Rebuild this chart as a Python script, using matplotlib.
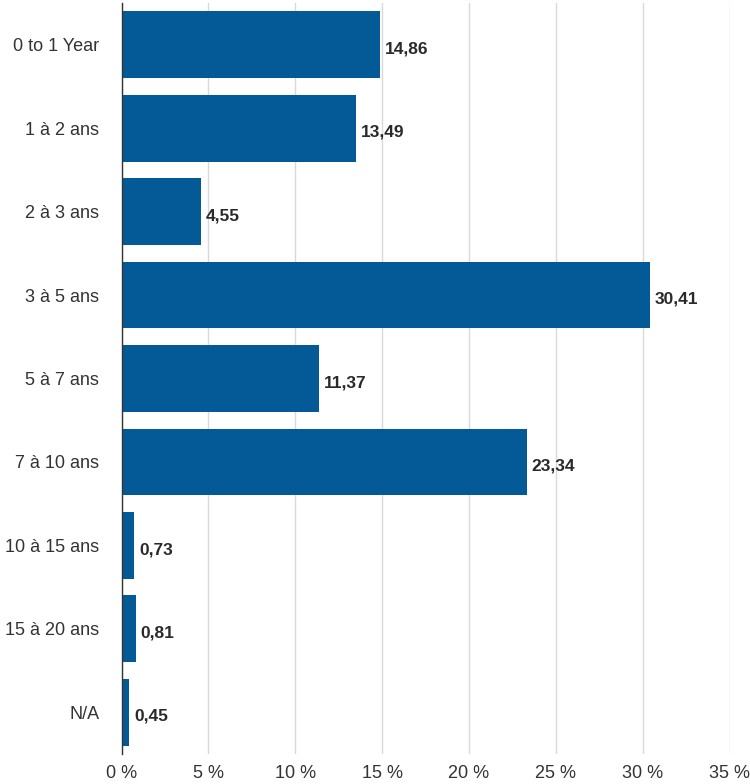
import matplotlib
matplotlib.use("Agg")
import matplotlib.pyplot as plt

categories = ["0 to 1 Year", "1 à 2 ans", "2 à 3 ans", "3 à 5 ans", "5 à 7 ans",
              "7 à 10 ans", "10 à 15 ans", "15 à 20 ans", "N/A"]
values = [14.86, 13.49, 4.55, 30.41, 11.37, 23.34, 0.73, 0.81, 0.45]
xticks = [0, 5, 10, 15, 20, 25, 30, 35]
xticklabels = ["0 %", "5 %", "10 %", "15 %", "20 %", "25 %", "30 %", "35 %"]

plt.rcParams['font.family'] = ['Liberation Sans', 'DejaVu Sans']

fig = plt.figure(figsize=(7.5, 7.84), dpi=100)
ax = fig.add_axes([121.5/750, 1-754/784, (729.5-121.5)/750, (754-3)/784])

y = list(range(len(categories)))
ax.barh(y, values, height=0.8, color="#035a96", zorder=2)
ax.set_ylim(len(categories)-0.5, -0.5)
ax.set_xlim(0, 35)
ax.set_yticks(y)
ax.set_yticklabels(categories, fontsize=13, color="#333333")
ax.set_xticks(xticks)
ax.set_xticklabels(xticklabels, fontsize=13, color="#333333")
ax.tick_params(axis='x', length=0, pad=8)
ax.tick_params(axis='y', length=0, pad=16)
ax.grid(axis='x', color="#d9d9d9", linewidth=1, zorder=0)
for s in ["top", "right", "bottom"]:
    ax.spines[s].set_visible(False)
ax.spines["left"].set_color("#333333")
ax.spines["left"].set_linewidth(1)
ax.spines["left"].set_zorder(3)

for yi, v in zip(y, values):
    ax.text(v + 0.28, yi + 0.05, f"{v:.2f}".replace(".", ","), va="center", ha="left",
            fontsize=12.5, fontweight="bold", color="#2a2a2a")

fig.savefig("out.png", dpi=100)
